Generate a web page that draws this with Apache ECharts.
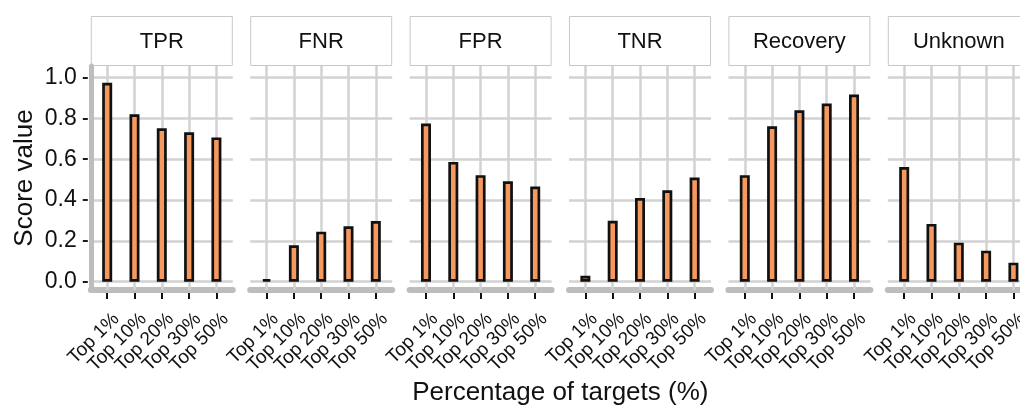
<!DOCTYPE html>
<html>
<head>
<meta charset="utf-8">
<script src="https://cdn.jsdelivr.net/npm/echarts@6/dist/echarts.min.js"></script>
<style>
html,body{margin:0;padding:0;background:#fff;}
#chart{width:1020px;height:411px;}
</style>
</head>
<body>
<div id="chart"></div>
<script>
// ---- data ----
const categories = ['Top 1%', 'Top 10%', 'Top 20%', 'Top 30%', 'Top 50%'];
const panelNames = ['TPR', 'FNR', 'FPR', 'TNR', 'Recovery', 'Unknown'];
const tpr      = [0.975, 0.820, 0.752, 0.732, 0.707];
const fnr      = [0.012, 0.178, 0.245, 0.271, 0.297];
const fpr      = [0.775, 0.587, 0.522, 0.492, 0.466];
const tnr      = [0.029, 0.298, 0.410, 0.448, 0.510];
const recovery = [0.522, 0.762, 0.840, 0.873, 0.917];
const unknown  = [0.562, 0.283, 0.191, 0.152, 0.093];
const yTickValues = [0, 0.2, 0.4, 0.6, 0.8, 1.0];
const yTitle = 'Score value';
const xTitle = 'Percentage of targets (%)';
const panelValues = [tpr, fnr, fpr, tnr, recovery, unknown];

// ---- layout ----
const H = 411;
const FONT = '"Liberation Sans", Arial, Helvetica, sans-serif';
const TXT = '#111111';
const GRID_COLOR = '#d2d2d2';
const AXIS_GRAY = '#bdbdbd';
const BAR_FILL = '#f5995f';
const P0 = 90.8, PSTEP = 159.4, PW = 142;
const PLOT_TOP = 66, PLOT_BOT = 290;
const Y_MIN = -0.041, Y_MAX = 1.057;
const scale = (PLOT_BOT - PLOT_TOP) / (Y_MAX - Y_MIN);
const zeroY = PLOT_BOT + Y_MIN * scale;       // pixel y of value 0
const oneY = PLOT_TOP + (Y_MAX - 1) * scale;  // pixel y of value 1
const unit = PW / (categories.length - 1 + 1.2);
const STRIP_TOP = 16, STRIP_H = 50;
const LABEL_DX = 9, LABEL_MARGIN = 26;

const grids = [], xAxes = [], yAxes = [], series = [], graphics = [];

panelNames.forEach((name, i) => {
  const L = P0 + PSTEP * i;
  // background grid: horizontal gridlines, y labels, x axis line
  const gBg = grids.length;
  grids.push({ left: L, width: PW, top: oneY, bottom: H - zeroY, containLabel: false, outerBoundsMode: 'none' });
  xAxes.push({
    gridIndex: gBg, type: 'value', min: 0, max: 1, position: 'bottom', offset: PLOT_BOT - zeroY,
    axisLine: { show: true, onZero: false, lineStyle: { color: AXIS_GRAY, width: 6 } },
    axisTick: { show: false }, axisLabel: { show: false }, splitLine: { show: false }
  });
  yAxes.push({
    gridIndex: gBg, type: 'value', min: 0, max: 1, interval: 0.2, offset: 3,
    axisLine: { show: false, onZero: false },
    axisTick: { show: i === 0, length: 5, lineStyle: { color: '#1a1a1a', width: 2 } },
    axisLabel: { show: i === 0, margin: 11, fontSize: 23, color: TXT, fontFamily: FONT,
      formatter: v => v.toFixed(1) },
    splitLine: { show: true, lineStyle: { color: GRID_COLOR, width: 2.5 } }
  });

  // bar grid (category band = one unit; 0.1 unit extra expansion on each side lies outside it)
  const gB = grids.length;
  const barLeft = L + 0.1 * unit, barWidthPx = categories.length * unit;
  grids.push({ left: barLeft, width: barWidthPx, top: PLOT_TOP, bottom: H - PLOT_BOT,
    containLabel: false, outerBoundsMode: 'none' });
  const xTickAxis = xAxes.length;
  xAxes.push({
    gridIndex: gB, type: 'category', data: categories, position: 'bottom', offset: 3,
    axisLine: { show: false, onZero: false },
    axisTick: { show: true, interval: 0, alignWithLabel: true, length: 6, lineStyle: { color: '#111', width: 2 } },
    axisLabel: { show: true, interval: 0, rotate: 45, fontSize: 19, fontFamily: FONT,
      color: 'rgba(0,0,0,0)', hideOverlap: false },
    splitLine: { show: false }
  });
  xAxes.push({
    gridIndex: gB, type: 'category', data: categories, position: 'bottom', offset: 0,
    axisLine: { show: false, onZero: false },
    axisTick: { show: true, interval: 0, inside: true, alignWithLabel: true, length: PLOT_BOT - PLOT_TOP,
      lineStyle: { color: GRID_COLOR, width: 2.5 } },
    axisLabel: { show: true, interval: 0, rotate: 45, fontSize: 19, color: 'rgba(0,0,0,0)', hideOverlap: false },
    splitLine: { show: false }
  });
  const yB = yAxes.length;
  yAxes.push({
    gridIndex: gB, type: 'value', min: Y_MIN, max: Y_MAX, offset: 0.1 * unit,
    axisLine: { show: i === 0, onZero: false, lineStyle: { color: AXIS_GRAY, width: 5 } },
    axisTick: { show: false }, axisLabel: { show: false }, splitLine: { show: false }
  });

  // label grid: same category layout, shifted so rotated labels hang like ggplot's hjust=1
  const gL = grids.length;
  grids.push({ left: barLeft + LABEL_DX, width: barWidthPx, top: PLOT_TOP, bottom: H - PLOT_BOT,
    containLabel: false, outerBoundsMode: 'none' });
  xAxes.push({
    gridIndex: gL, type: 'category', data: categories, position: 'bottom',
    axisLine: { show: false, onZero: false }, axisTick: { show: false },
    axisLabel: { show: true, rotate: 45, interval: 0, margin: LABEL_MARGIN, fontSize: 19, color: TXT,
      fontFamily: FONT, hideOverlap: false },
    splitLine: { show: false }
  });
  yAxes.push({
    gridIndex: gL, type: 'value', min: 0, max: 1, show: false,
    axisLine: { show: false }, axisTick: { show: false }, axisLabel: { show: false }, splitLine: { show: false }
  });

  series.push({
    type: 'bar', name: name, xAxisIndex: xTickAxis, yAxisIndex: yB,
    data: panelValues[i], barWidth: 10, z: 5,
    itemStyle: { color: BAR_FILL, borderColor: '#111', borderWidth: 2.7 }
  });

  // strip
  graphics.push({
    type: 'rect', shape: { x: L + 0.5, y: STRIP_TOP + 0.5, width: PW - 1, height: STRIP_H - 1 },
    style: { fill: '#fff', stroke: '#c8c8c8', lineWidth: 1 }, silent: true
  });
  graphics.push({
    type: 'text', x: L + PW / 2, y: STRIP_TOP + STRIP_H / 2 + 1,
    style: { text: name, fill: TXT, font: '22px ' + FONT, align: 'center', verticalAlign: 'middle' }, silent: true
  });
});

graphics.push({
  type: 'text', x: 25, y: (PLOT_TOP + PLOT_BOT) / 2, rotation: Math.PI / 2,
  style: { text: yTitle, fill: TXT, font: '26px ' + FONT, align: 'center', verticalAlign: 'middle' }, silent: true
});
graphics.push({
  type: 'text', x: (P0 + P0 + PSTEP * 5 + PW) / 2, y: 393,
  style: { text: xTitle, fill: TXT, font: '26px ' + FONT, align: 'center', verticalAlign: 'middle' }, silent: true
});

const chart = echarts.init(document.getElementById('chart'), null, { renderer: 'canvas' });
chart.setOption({
  animation: false,
  backgroundColor: '#ffffff',
  grid: grids, xAxis: xAxes, yAxis: yAxes, series: series,
  graphic: { elements: graphics }
});
</script>
</body>
</html>
